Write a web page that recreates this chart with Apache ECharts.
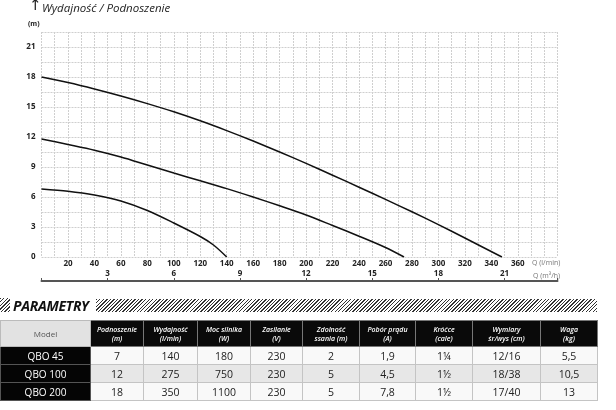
<!DOCTYPE html>
<html>
<head>
<meta charset="utf-8">
<script src="https://cdn.jsdelivr.net/npm/echarts@6/dist/echarts.min.js"></script>
<style>
html,body{margin:0;padding:0;background:#fff;width:616px;height:410px;overflow:hidden;font-family:"Open Sans",sans-serif;}
#chart{position:absolute;left:0;top:0;width:616px;height:410px;}
#band{position:absolute;left:0;top:298px;width:597px;height:15px;}
#hatchL{position:absolute;left:0;top:0;width:10px;height:14px;background:repeating-linear-gradient(135deg,#333 0 1px,#fff 1px 2.5px);}
#hatchR{position:absolute;left:96px;top:1px;width:501px;height:13px;background:repeating-linear-gradient(135deg,#333 0 1px,#fff 1px 2.5px);}
#ptitle{position:absolute;left:13px;top:-2px;font:italic 700 14px "Open Sans",sans-serif;color:#111;letter-spacing:-0.3px;}
table{position:absolute;left:0;top:320px;border-collapse:collapse;table-layout:fixed;}
td,th{padding:0;text-align:center;vertical-align:middle;}
th{background:#0a0a0a;color:#fff;font:italic 600 7px/9px "Open Sans",sans-serif;height:25px;border:1px solid #777;}
th.model{background:#e2e2e2;color:#555;font:400 8px "Open Sans",sans-serif;border:1px solid #bbb;}
td{height:17px;font:400 10.5px "Open Sans",sans-serif;color:#222;border:1px solid #c4c4c4;}
td.m{background:#050505;color:#fff;font-size:10px;border:1px solid #555;}
tr.r0 td{background:#f9f9f9;} tr.r1 td{background:#e7e7e7;} tr.r2 td{background:#f9f9f9;}
tr td.m{background:#050505;}
</style>
</head>
<body>
<div id="chart"></div>
<div id="band"><div id="hatchL"></div><div id="ptitle">PARAMETRY</div><div id="hatchR"></div></div>
<table id="tbl"></table>
<script>
// ---- chart data (Q in l/min, H in m) ----
const qbo45Q  = [0, 20, 40, 60, 80, 100, 120, 130, 140];
const qbo45H  = [6.8, 6.58, 6.2, 5.6, 4.65, 3.4, 2.05, 1.2, 0];
const qbo100Q = [0, 20, 40, 60, 80, 100, 120, 140, 160, 180, 200, 220, 240, 260, 274];
const qbo100H = [11.8, 11.25, 10.68, 10.0, 9.2, 8.4, 7.62, 6.84, 6.0, 5.12, 4.2, 3.15, 2.08, 0.95, 0];
const qbo200Q = [0, 20, 40, 60, 80, 100, 120, 140, 160, 180, 200, 220, 240, 260, 280, 300, 320, 348];
const qbo200H = [18.0, 17.44, 16.8, 16.1, 15.34, 14.52, 13.62, 12.64, 11.6, 10.5, 9.36, 8.18, 6.98, 5.76, 4.52, 3.24, 1.9, 0];
const qTicks   = [20, 40, 60, 80, 100, 120, 140, 160, 180, 200, 220, 240, 260, 280, 300, 320, 340, 360];
const m3hTicks = [3, 6, 9, 12, 15, 18, 21];
const hTicks   = [0, 3, 6, 9, 12, 15, 18, 21];

// ---- table data ----
const tableHeaders = ["Model", "Podnoszenie<br>(m)", "Wydajność<br>(l/min)", "Moc silnika<br>(W)", "Zasilanie<br>(V)",
  "Zdolność<br>ssania (m)", "Pobór prądu<br>(A)", "Króćce<br>(cale)", "Wymiary<br>śr/wys (cm)", "Waga<br>(kg)"];
const models      = ["QBO 45", "QBO 100", "QBO 200"];
const lift        = ["7", "12", "18"];
const flow        = ["140", "275", "350"];
const power       = ["180", "750", "1100"];
const voltage     = ["230", "230", "230"];
const suction     = ["2", "5", "5"];
const current     = ["1,9", "4,5", "7,8"];
const ports       = ["1¼", "1½", "1½"];
const dims        = ["12/16", "18/38", "17/40"];
const weight      = ["5,5", "10,5", "13"];

const colW = [90, 53, 54, 53, 52, 57, 56, 57, 68, 57];

// build table
(function(){
  const t = document.getElementById('tbl');
  let h = '<colgroup>' + colW.map(w => '<col style="width:' + w + 'px">').join('') + '</colgroup><tr>';
  tableHeaders.forEach((x, i) => { h += '<th' + (i === 0 ? ' class="model"' : '') + '>' + x + '</th>'; });
  h += '</tr>';
  models.forEach((m, r) => {
    const vals = [lift[r], flow[r], power[r], voltage[r], suction[r], current[r], ports[r], dims[r], weight[r]];
    h += '<tr class="r' + r + '"><td class="m">' + m + '</td>' + vals.map(v => '<td>' + v + '</td>').join('') + '</tr>';
  });
  t.innerHTML = h;
  t.style.width = colW.reduce((a, b) => a + b, 0) + 'px';
})();

const pairs = (xs, ys) => xs.map((x, i) => [x, ys[i]]);
const lpm2m3h = 0.06;
const qMax = 390;

const chart = echarts.init(document.getElementById('chart'), null, {renderer: 'canvas'});
const lblFont = {fontFamily: '"Open Sans", sans-serif', fontWeight: 700, fontSize: 8, color: '#222'};
const gridLine = {show: true, lineStyle: {color: '#cfcfcf', width: 1, type: [2, 1]}};
const curve = (name, xs, ys) => ({name, type: 'line', data: pairs(xs, ys), smooth: 0.3,
  symbol: 'none', lineStyle: {color: '#111', width: 1.5}});

chart.setOption({
  animation: false,
  grid: {left: 41.5, right: 58.5, top: 32, bottom: 153, containLabel: false},
  xAxis: [{
    type: 'value', min: 0, max: qMax, interval: 10, position: 'bottom',
    axisLine: {show: false}, axisTick: {show: false}, splitLine: gridLine,
    axisLabel: Object.assign({}, lblFont, {margin: 3,
      formatter: v => qTicks.indexOf(Math.round(v)) >= 0 ? String(Math.round(v)) : ''})
  }, {
    type: 'value', min: 0, max: qMax * lpm2m3h, interval: 3, position: 'bottom', offset: 24,
    axisLine: {show: true, lineStyle: {color: '#555', width: 2}},
    axisTick: {show: true, inside: true, length: 3, lineStyle: {color: '#555', width: 1}},
    splitLine: {show: false},
    axisLabel: Object.assign({}, lblFont, {inside: true, margin: 3,
      formatter: v => m3hTicks.indexOf(Math.round(v)) >= 0 ? String(Math.round(v)) : ''})
  }],
  yAxis: {
    type: 'value', min: 0, max: 22.5, interval: 1.5,
    axisLine: {show: false}, axisTick: {show: false}, splitLine: gridLine,
    axisLabel: Object.assign({}, lblFont, {margin: 6,
      formatter: v => hTicks.indexOf(v) >= 0 ? String(v) : ''})
  },
  series: [
    curve('QBO 45', qbo45Q, qbo45H),
    curve('QBO 100', qbo100Q, qbo100H),
    curve('QBO 200', qbo200Q, qbo200H)
  ],
  graphic: [
    {type: 'text', left: 29, top: -1, style: {text: '↑', font: '400 15px "DejaVu Sans"', fill: '#222'}},
    {type: 'text', left: 42, top: 3, style: {text: 'Wydajność / Podnoszenie', font: 'italic 400 11.5px "Open Sans"', fill: '#222'}},
    {type: 'text', left: 28, top: 20, style: {text: '(m)', font: '700 7px "Open Sans"', fill: '#222'}},
    {type: 'text', left: 532, top: 259, style: {text: 'Q (l/min)', font: '400 7px "Open Sans"', fill: '#777'}},
    {type: 'text', left: 533, top: 272, style: {text: 'Q (m³/h)', font: '400 7px "Open Sans"', fill: '#777'}}
  ]
});
</script>
</body>
</html>
